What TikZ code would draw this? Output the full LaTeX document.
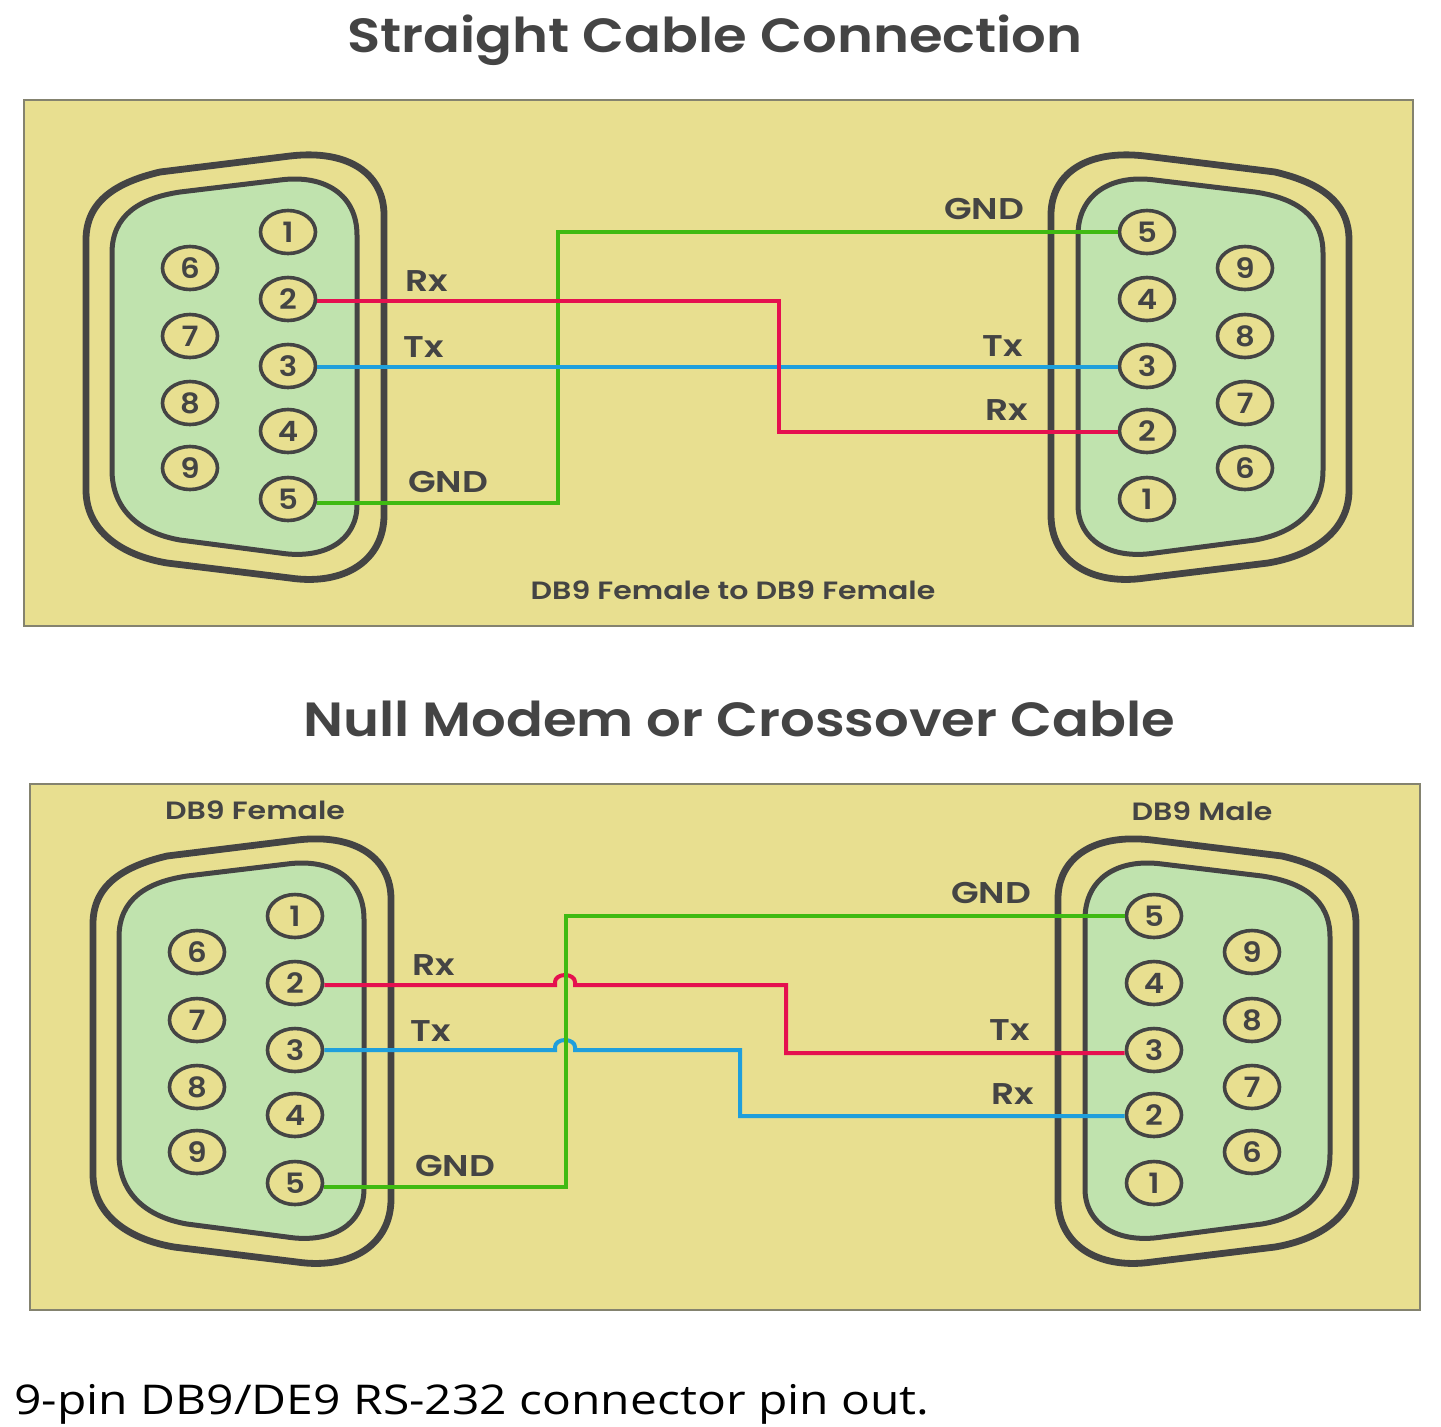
\documentclass[tikz,border=0pt]{standalone}
\usepackage{fontspec}
\usetikzlibrary{shapes.geometric}
\newfontfamily\gothictitle{Poppins}[UprightFont=* SemiBold,FakeStretch=1.135]
\newfontfamily\gothiclabel{Poppins}[UprightFont=* SemiBold,FakeStretch=1.2]
\newfontfamily\gothicpin{Poppins}[UprightFont=* SemiBold,FakeStretch=1.1]
\newfontfamily\plainsans{Open Sans}[FakeStretch=1.17]
\definecolor{panelc}{HTML}{E8DF90}
\definecolor{facec}{HTML}{C0E3AE}
\definecolor{darkc}{HTML}{444444}
\definecolor{edgec}{HTML}{84836F}
\definecolor{redw}{HTML}{E5104F}
\definecolor{bluew}{HTML}{1F9FDC}
\definecolor{greenw}{HTML}{3FBA12}
\tikzset{
  panel/.style={fill=panelc,draw=edgec,line width=1.2pt},
  shellout/.style={draw=darkc,line width=3.4pt,fill=panelc},
  shellin/.style={draw=darkc,line width=2.5pt,fill=facec},
  pin/.style={ellipse,draw=darkc,fill=panelc,line width=1.8pt,minimum width=27.5pt,minimum height=21.5pt,inner sep=0pt,text=darkc,font=\gothicpin\fontsize{14}{15}\selectfont},
  wire/.style={line width=2pt,line join=miter},
  titletext/.style={text=darkc,inner sep=0pt,font=\gothictitle\fontsize{24}{26}\selectfont},
  labeltext/.style={text=darkc,inner sep=0pt,font=\gothiclabel\fontsize{15}{17}\selectfont},
  captext/.style={text=darkc,inner sep=0pt,font=\gothiclabel\fontsize{12.5}{14}\selectfont}
}
\newcommand{\dbnine}[4]{%
\begin{scope}[#2]
\path[shellout] (86,240) .. controls (86,200) and (118,182) .. (160,172) -- (290,156) .. controls (350,149) and (384,175) .. (384,215) -- (384,515) .. controls (384,560) and (345,586) .. (290,578) -- (167,563) .. controls (120,555) and (86,530) .. (86,490) -- cycle;
\path[shellin] (112,253) .. controls (112,215) and (140,198) .. (180,192) -- (280,180) .. controls (325,174) and (357,195) .. (357,235) -- (357,505) .. controls (357,540) and (325,560) .. (280,553) -- (180,540) .. controls (140,533) and (112,510) .. (112,470) -- cycle;
\foreach \n/\yy in {#3}{\node[pin] (#1\n) at (288,\yy) {\n};}
\foreach \n/\yy in {#4}{\node[pin] (#1\n) at (190,\yy) {\n};}
\end{scope}}
\begin{document}
\begin{tikzpicture}[x=0.5pt,y=-0.5pt]
\useasboundingbox (0,0) rectangle (1441,1426);
\fill[white] (0,0) rectangle (1441,1426);
% panels
\path[panel] (24,100) rectangle (1413,626);
\path[panel] (30,784) rectangle (1420,1310);
% titles
\node[titletext] (t1) at (715,40) {Straight Cable Connection};
\node[titletext] (t2) at (739,719) {Null Modem or Crossover Cable};
\node[inner sep=0pt,text=black,font=\plainsans\fontsize{20.5}{23}\selectfont] (foot) at (472,1404) {9-pin DB9/DE9 RS-232 connector pin out.};
% connectors
\dbnine{a}{}{1/232,2/299,3/366,4/431,5/499}{6/268,7/336,8/403,9/468}
\dbnine{b}{shift={(1435,0)},xscale=-1}{5/232,4/299,3/366,2/431,1/499}{9/268,8/336,7/403,6/468}
\dbnine{c}{shift={(7,684)}}{1/232,2/299,3/366,4/431,5/499}{6/268,7/336,8/403,9/468}
\dbnine{d}{shift={(1442,684)},xscale=-1}{5/232,4/299,3/366,2/431,1/499}{9/268,8/336,7/403,6/468}
% straight cable
\draw[wire,greenw] ([yshift=-2pt]a5.east) -- (558,503) -- (558,232) -- (b5.west);
\draw[wire,bluew] ([yshift=-.5pt]a3.east) -- ([yshift=-.5pt]b3.west);
\draw[wire,redw] ([yshift=-1pt]a2.east) -- (779,301) -- (779,432) -- ([yshift=-.5pt]b2.west);
% crossover cable
\draw[wire,bluew] (c3.east) -- (555,1050) -- (555,1047) arc[start angle=180,end angle=0,x radius=5pt,y radius=3.5pt] -- (575,1050) -- (740,1050) -- (740,1116) -- ([yshift=-.5pt]d2.west);
\draw[wire,redw] ([yshift=-1pt]c2.east) -- (555,985) -- (555,982) arc[start angle=180,end angle=0,x radius=5pt,y radius=3.5pt] -- (575,985) -- (786,985) -- (786,1053) -- ([yshift=-1.5pt]d3.west);
\draw[wire,greenw] ([yshift=-2pt]c5.east) -- (566,1187) -- (566,916) -- (d5.west);
% labels
\node[labeltext] (l1) at (427,281) {Rx};
\node[labeltext] (l2) at (424,347) {Tx};
\node[labeltext] (l3) at (448,482) {GND};
\node[labeltext] (l4) at (984,209) {GND};
\node[labeltext] (l5) at (1003,346) {Tx};
\node[labeltext] (l6) at (1007,410) {Rx};
\node[captext] (l7) at (733,590) {DB9 Female to DB9 Female};
\node[labeltext] (m1) at (434,965) {Rx};
\node[labeltext] (m2) at (431,1031) {Tx};
\node[labeltext] (m3) at (455,1166) {GND};
\node[labeltext] (m4) at (991,893) {GND};
\node[labeltext] (m5) at (1010,1030) {Tx};
\node[labeltext] (m6) at (1013,1094) {Rx};
\node[captext] (m7) at (255,810) {DB9 Female};
\node[captext] (m8) at (1202,811) {DB9 Male};
\end{tikzpicture}
\end{document}
